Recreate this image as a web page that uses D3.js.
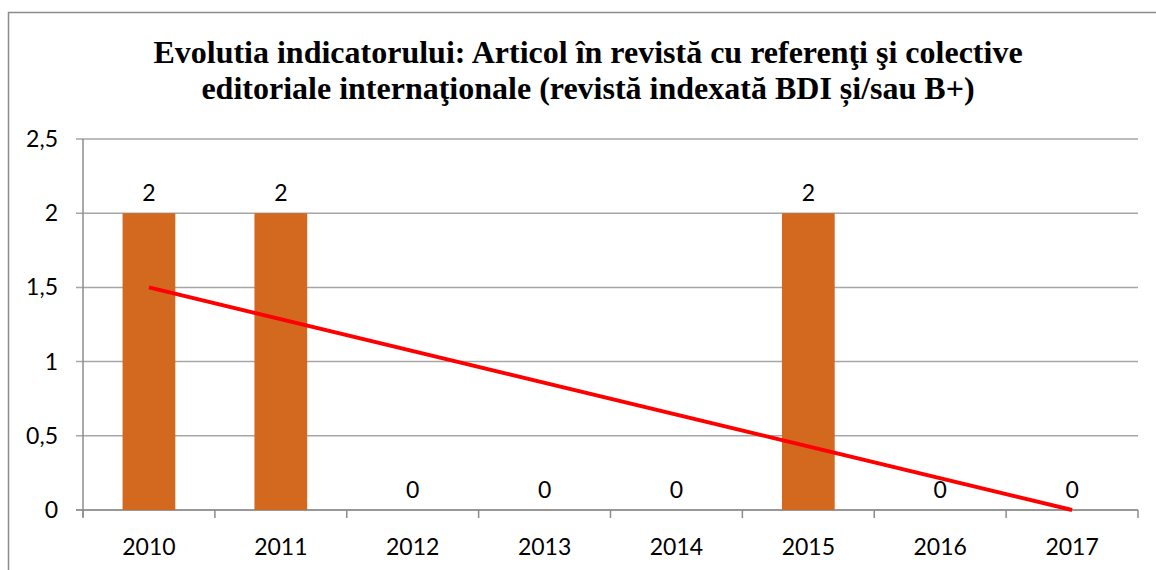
<!DOCTYPE html>
<html>
<head>
<meta charset="utf-8">
<script src="https://cdn.jsdelivr.net/npm/d3@7"></script>
<style>
  body { margin: 0; background: #fff; }
  svg { display: block; }
</style>
</head>
<body>
<div id="chart"></div>
<script>
// chart data
const years = ["2010", "2011", "2012", "2013", "2014", "2015", "2016", "2017"];
const values = [2, 2, 0, 0, 0, 2, 0, 0];
const yTicks = [0, 0.5, 1, 1.5, 2, 2.5];
const titleLines = [
  "Evolutia indicatorului: Articol în revistă cu referenţi şi colective",
  "editoriale internaţionale (revistă indexată BDI și/sau B+)"
];

const width = 1156;
const height = 570;
const margin = {top: 139, right: 18, bottom: 60, left: 83};

const svg = d3.select("#chart")
  .append("svg")
  .attr("width", width)
  .attr("height", height);

// outer frame of the chart object (runs off the right/bottom of the picture)
svg.append("rect")
  .attr("x", 8.5)
  .attr("y", 12.5)
  .attr("width", 1300)
  .attr("height", 700)
  .attr("fill", "none")
  .attr("stroke", "#8c8c8c")
  .attr("stroke-width", 1.5);

const x = d3.scaleBand()
  .domain(years)
  .range([margin.left, width - margin.right])
  .paddingInner(0.6)
  .paddingOuter(0.3);

const xOuter = d3.scaleBand()
  .domain(years)
  .range([margin.left, width - margin.right]);

const y = d3.scaleLinear()
  .domain([0, 2.5])
  .range([height - margin.bottom, margin.top]);

const fmt = d => String(d).replace(".", ",");
const labelFont = "Lato, 'Open Sans', sans-serif";

// horizontal gridlines
svg.append("g")
  .selectAll("line")
  .data(yTicks)
  .enter()
  .append("line")
  .attr("x1", margin.left - 7)
  .attr("x2", width - margin.right)
  .attr("y1", d => y(d))
  .attr("y2", d => y(d))
  .attr("stroke", "#a6a6a6")
  .attr("stroke-width", 1.5);

// y axis labels
svg.append("g")
  .selectAll("text")
  .data(yTicks)
  .enter()
  .append("text")
  .attr("x", 58)
  .attr("y", d => y(d))
  .attr("dy", "0.35em")
  .attr("text-anchor", "end")
  .style("font-family", labelFont)
  .style("font-size", "23px")
  .attr("fill", "#000")
  .text(fmt);

// y axis line
svg.append("line")
  .attr("x1", margin.left)
  .attr("x2", margin.left)
  .attr("y1", y(2.5))
  .attr("y2", y(0) + 7)
  .attr("stroke", "#8c8c8c")
  .attr("stroke-width", 1.5);

// x axis line + category ticks
svg.append("line")
  .attr("x1", margin.left - 7)
  .attr("x2", width - margin.right)
  .attr("y1", y(0))
  .attr("y2", y(0))
  .attr("stroke", "#8c8c8c")
  .attr("stroke-width", 1.5);

const tickPos = years.map(d => xOuter(d)).concat([width - margin.right]);
svg.append("g")
  .selectAll("line")
  .data(tickPos)
  .enter()
  .append("line")
  .attr("x1", d => d)
  .attr("x2", d => d)
  .attr("y1", y(0))
  .attr("y2", y(0) + 8)
  .attr("stroke", "#8c8c8c")
  .attr("stroke-width", 1.5);

// bars
svg.append("g")
  .selectAll("rect")
  .data(values)
  .enter()
  .append("rect")
  .attr("x", (d, i) => x(years[i]))
  .attr("y", d => y(d))
  .attr("width", x.bandwidth())
  .attr("height", d => y(0) - y(d))
  .attr("fill", "#d2691e");

// data labels
svg.append("g")
  .selectAll("text")
  .data(values)
  .enter()
  .append("text")
  .attr("x", (d, i) => xOuter(years[i]) + xOuter.bandwidth() / 2)
  .attr("y", d => y(d) - 12)
  .attr("text-anchor", "middle")
  .style("font-family", labelFont)
  .style("font-size", "23px")
  .attr("fill", "#000")
  .text(d => d);

// x labels
svg.append("g")
  .selectAll("text")
  .data(years)
  .enter()
  .append("text")
  .attr("x", d => xOuter(d) + xOuter.bandwidth() / 2)
  .attr("y", y(0) + 45)
  .attr("text-anchor", "middle")
  .style("font-family", labelFont)
  .style("font-size", "23px")
  .attr("fill", "#000")
  .text(d => d);

// linear trendline (least squares over the series)
const n = values.length;
const mx = d3.mean(values, (d, i) => i);
const my = d3.mean(values);
const slope = d3.sum(values, (d, i) => (i - mx) * (d - my)) / d3.sum(values, (d, i) => (i - mx) * (i - mx));
const icpt = my - slope * mx;
const trend = [0, n - 1].map(i => ({year: years[i], v: icpt + slope * i}));

svg.append("path")
  .datum(trend)
  .attr("fill", "none")
  .attr("stroke", "#ff0000")
  .attr("stroke-width", 4)
  .attr("d", d3.line()
    .x(d => xOuter(d.year) + xOuter.bandwidth() / 2)
    .y(d => y(d.v)));

// title
svg.append("g")
  .selectAll("text")
  .data(titleLines)
  .enter()
  .append("text")
  .attr("x", 588)
  .attr("y", (d, i) => 63 + i * 36)
  .attr("text-anchor", "middle")
  .style("font-family", "'Liberation Serif', 'Times New Roman', serif")
  .style("font-weight", "bold")
  .style("font-size", "32px")
  .attr("fill", "#000")
  .text(d => d);
</script>
</body>
</html>
